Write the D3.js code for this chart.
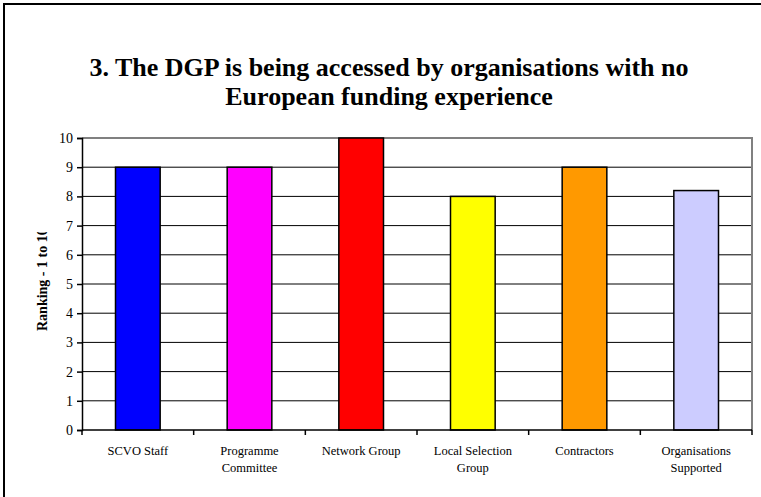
<!DOCTYPE html>
<html>
<head>
<meta charset="utf-8">
<script src="https://cdn.jsdelivr.net/npm/d3@7"></script>
<style>
  body { margin: 0; background: #fff; }
  svg { display: block; }
  svg text { font-family: 'Liberation Serif', 'DejaVu Serif', serif; }
</style>
</head>
<body>
<div class="content"></div>
<script>
var categories = [['SCVO Staff'], ['Programme', 'Committee'], ['Network Group'], ['Local Selection', 'Group'], ['Contractors'], ['Organisations', 'Supported']]
var values = [9, 9, 10, 8, 9, 8.2]
var barColors = ['#0000ff', '#ff00ff', '#ff0000', '#ffff00', '#ff9900', '#ccccff']
var yTicks = [0, 1, 2, 3, 4, 5, 6, 7, 8, 9, 10]
var titleLines = ['3. The DGP is being accessed by organisations with no', 'European funding experience']
var yTitle = 'Ranking - 1 to 10'

var width = 761
var height = 497
var margin = { left: 82, right: 752, top: 138, bottom: 430 }

var svg = d3.select('.content').append('svg')
    .attr('width', width)
    .attr('height', height)

// outer chart frame runs off the right and bottom edges
svg.append('rect')
    .attr('x', 4).attr('y', 4)
    .attr('width', width + 10).attr('height', height + 10)
    .attr('fill', '#fff')
    .attr('stroke', '#000')
    .attr('stroke-width', 2)

svg.append('g')
    .selectAll('text')
    .data(titleLines)
    .enter().append('text')
    .attr('x', 389)
    .attr('y', function(d, i) { return 76 + i * 29 })
    .attr('text-anchor', 'middle')
    .attr('font-size', 26)
    .attr('font-weight', 'bold')
    .text(function(d) { return d })

var x = d3.scaleBand()
    .domain(d3.range(categories.length))
    .range([margin.left, margin.right])
    .paddingInner(0.6)
    .paddingOuter(0.3)

var xOuter = d3.scaleBand()
    .domain(d3.range(categories.length))
    .range([margin.left, margin.right])

var y = d3.scaleLinear()
    .domain([0, 10])
    .range([margin.bottom, margin.top])

// gridlines
svg.append('g')
    .attr('class', 'grid')
    .selectAll('line')
    .data(yTicks.slice(1, -1))
    .enter().append('line')
    .attr('x1', margin.left).attr('x2', margin.right)
    .attr('y1', function(d) { return y(d) }).attr('y2', function(d) { return y(d) })
    .attr('stroke', '#000')
    .attr('stroke-width', 1)

// plot frame top and right
svg.append('path')
    .attr('d', 'M' + margin.left + ',' + y(10) + 'H' + margin.right + 'V' + y(0))
    .attr('fill', 'none')
    .attr('stroke', '#808080')
    .attr('stroke-width', 2)

svg.append('g')
    .attr('class', 'bars')
    .selectAll('rect')
    .data(values)
    .enter().append('rect')
    .attr('x', function(d, i) { return x(i) })
    .attr('width', x.bandwidth())
    .attr('y', function(d) { return y(d) })
    .attr('height', function(d) { return y(0) - y(d) })
    .attr('fill', function(d, i) { return barColors[i] })
    .attr('stroke', '#000')
    .attr('stroke-width', 1.5)

// y axis
var yAxis = svg.append('g')
    .attr('transform', 'translate(' + margin.left + ',0)')
    .call(d3.axisLeft(y).tickValues(yTicks).tickSize(5).tickPadding(4).tickFormat(d3.format('d')))
yAxis.attr('font-family', null)
yAxis.select('.domain').attr('stroke', '#000').attr('stroke-width', 1.5)
yAxis.selectAll('line').attr('stroke', '#000').attr('stroke-width', 1.5)
yAxis.selectAll('text').attr('font-size', 14).attr('fill', '#000')

// x axis with ticks at category boundaries
var xAxis = svg.append('g')
    .attr('transform', 'translate(0,' + margin.bottom + ')')
xAxis.append('line')
    .attr('x1', margin.left).attr('x2', margin.right)
    .attr('stroke', '#000').attr('stroke-width', 1.5)
xAxis.selectAll('.tick')
    .data(d3.range(categories.length + 1))
    .enter().append('line')
    .attr('class', 'tick')
    .attr('x1', function(i) { return margin.left + i * xOuter.step() })
    .attr('x2', function(i) { return margin.left + i * xOuter.step() })
    .attr('y1', 0).attr('y2', 5)
    .attr('stroke', '#000').attr('stroke-width', 1.5)

var labels = xAxis.selectAll('.label')
    .data(categories)
    .enter().append('text')
    .attr('class', 'label')
    .attr('text-anchor', 'middle')
    .attr('font-size', 12.5)
    .attr('transform', function(d, i) { return 'translate(' + (xOuter(i) + xOuter.bandwidth() / 2) + ',0)' })
labels.selectAll('tspan')
    .data(function(d) { return d })
    .enter().append('tspan')
    .attr('x', 0)
    .attr('y', function(d, i) { return 25 + i * 17 })
    .text(function(d) { return d })

// y title, clipped like the original
svg.append('clipPath')
    .attr('id', 'ytclip')
    .append('rect')
    .attr('x', 20).attr('y', 232).attr('width', 40).attr('height', 120)

svg.append('g')
    .attr('clip-path', 'url(#ytclip)')
    .append('text')
    .attr('transform', 'translate(47,331) rotate(-90)')
    .attr('font-size', 14)
    .attr('font-weight', 'bold')
    .text(yTitle)
</script>
</body>
</html>
